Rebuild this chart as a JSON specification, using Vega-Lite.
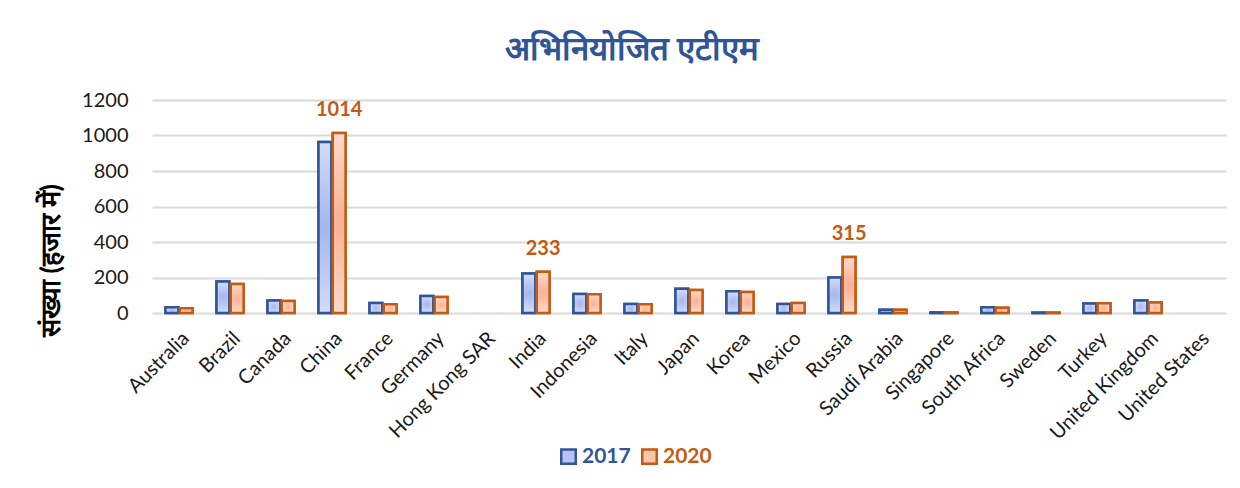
{
  "$schema": "https://vega.github.io/schema/vega-lite/v6.json",
  "width": 1074,
  "height": 213,
  "autosize": {"type": "none"},
  "padding": {"left": 152, "top": 100, "right": 14, "bottom": 175},
  "background": "white",
  "config": {
    "font": "Lato",
    "view": {"stroke": null}
  },
  "title": {
    "text": "अभिनियोजित एटीएम",
    "fontSize": 33,
    "fontWeight": "bold",
    "color": "#2f5597",
    "anchor": "middle",
    "dx": -57,
    "offset": 23
  },
  "data": {
    "values": [
      {"country": "Australia", "year": "2017", "value": 32},
      {"country": "Australia", "year": "2020", "value": 27},
      {"country": "Brazil", "year": "2017", "value": 177},
      {"country": "Brazil", "year": "2020", "value": 163},
      {"country": "Canada", "year": "2017", "value": 71},
      {"country": "Canada", "year": "2020", "value": 68},
      {"country": "China", "year": "2017", "value": 963},
      {"country": "China", "year": "2020", "value": 1014},
      {"country": "France", "year": "2017", "value": 57},
      {"country": "France", "year": "2020", "value": 49},
      {"country": "Germany", "year": "2017", "value": 96},
      {"country": "Germany", "year": "2020", "value": 90},
      {"country": "Hong Kong SAR", "year": "2017", "value": null},
      {"country": "Hong Kong SAR", "year": "2020", "value": null},
      {"country": "India", "year": "2017", "value": 222},
      {"country": "India", "year": "2020", "value": 233},
      {"country": "Indonesia", "year": "2017", "value": 107},
      {"country": "Indonesia", "year": "2020", "value": 105},
      {"country": "Italy", "year": "2017", "value": 51},
      {"country": "Italy", "year": "2020", "value": 49},
      {"country": "Japan", "year": "2017", "value": 136},
      {"country": "Japan", "year": "2020", "value": 130},
      {"country": "Korea", "year": "2017", "value": 122},
      {"country": "Korea", "year": "2020", "value": 119},
      {"country": "Mexico", "year": "2017", "value": 51},
      {"country": "Mexico", "year": "2020", "value": 57},
      {"country": "Russia", "year": "2017", "value": 200},
      {"country": "Russia", "year": "2020", "value": 315},
      {"country": "Saudi Arabia", "year": "2017", "value": 19},
      {"country": "Saudi Arabia", "year": "2020", "value": 18},
      {"country": "Singapore", "year": "2017", "value": 3},
      {"country": "Singapore", "year": "2020", "value": 3},
      {"country": "South Africa", "year": "2017", "value": 32},
      {"country": "South Africa", "year": "2020", "value": 30},
      {"country": "Sweden", "year": "2017", "value": 2},
      {"country": "Sweden", "year": "2020", "value": 2},
      {"country": "Turkey", "year": "2017", "value": 53},
      {"country": "Turkey", "year": "2020", "value": 55},
      {"country": "United Kingdom", "year": "2017", "value": 71},
      {"country": "United Kingdom", "year": "2020", "value": 59},
      {"country": "United States", "year": "2017", "value": null},
      {"country": "United States", "year": "2020", "value": null}
    ]
  },
  "encoding": {
    "x": {
      "field": "country",
      "type": "nominal",
      "sort": null,
      "scale": {
        "domain": ["Australia", "Brazil", "Canada", "China", "France", "Germany", "Hong Kong SAR", "India", "Indonesia", "Italy", "Japan", "Korea", "Mexico", "Russia", "Saudi Arabia", "Singapore", "South Africa", "Sweden", "Turkey", "United Kingdom", "United States"],
        "paddingInner": 0.47,
        "paddingOuter": 0.265
      },
      "axis": {
        "title": null,
        "labelAngle": -45,
        "labelFontSize": 20,
        "labelColor": "#1a1a1a",
        "labelPadding": 15,
        "ticks": false,
        "domain": false
      }
    },
    "xOffset": {
      "field": "year",
      "type": "nominal",
      "scale": {"domain": ["2017", "2020"], "paddingInner": 0.1}
    },
    "y": {
      "field": "value",
      "type": "quantitative",
      "scale": {"domain": [0, 1200]},
      "axis": {
        "title": "संख्या (हजार में)",
        "titleFontSize": 27,
        "titleFontWeight": "bold",
        "titleColor": "#000000",
        "titlePadding": 16,
        "titleY": 160,
        "values": [0, 200, 400, 600, 800, 1000, 1200],
        "format": "d",
        "labelFontSize": 20,
        "labelColor": "#1a1a1a",
        "labelPadding": 24,
        "ticks": false,
        "domain": false,
        "gridColor": "#d9d9d9",
        "gridWidth": 2
      }
    }
  },
  "layer": [
    {
      "mark": {"type": "bar", "strokeWidth": 2.5},
      "encoding": {
        "fill": {
          "field": "year",
          "type": "nominal",
          "scale": {"domain": ["2017", "2020"], "range": ["#b6c4f1", "#fcc5ae"]},
          "legend": {
            "title": null,
            "orient": "none",
            "direction": "horizontal",
            "legendX": 406,
            "legendY": 346,
            "symbolType": "square",
            "symbolSize": 210,
            "symbolStrokeWidth": 2.5,
            "labelFontSize": 21,
            "labelFontWeight": "bold",
            "labelOffset": 3,
            "columnPadding": 6,
            "labelColor": {"expr": "datum.value == '2017' ? '#2f5597' : '#c55a11'"}
          }
        },
        "stroke": {
          "field": "year",
          "type": "nominal",
          "scale": {"domain": ["2017", "2020"], "range": ["#2f5597", "#c55a11"]},
          "legend": {
            "title": null,
            "orient": "none",
            "direction": "horizontal",
            "legendX": 406,
            "legendY": 346,
            "symbolType": "square",
            "symbolSize": 210,
            "symbolStrokeWidth": 2.5,
            "labelFontSize": 21,
            "labelFontWeight": "bold",
            "labelOffset": 3,
            "columnPadding": 6,
            "labelColor": {"expr": "datum.value == '2017' ? '#2f5597' : '#c55a11'"}
          }
        }
      }
    },
    {
      "mark": {"type": "bar", "strokeWidth": 2.5},
      "encoding": {
        "stroke": {
          "condition": {"test": "datum.year == '2017'", "value": "#2f5597"},
          "value": "#c55a11"
        },
        "fill": {
          "condition": {
            "test": "datum.year == '2017'",
            "value": {
              "gradient": "radial",
              "x1": 0.5, "y1": 0.5, "r1": 0,
              "x2": 0.5, "y2": 0.5, "r2": 0.6,
              "stops": [
                {"offset": 0, "color": "#a4b6ee"},
                {"offset": 1, "color": "#dde4f9"}
              ]
            }
          },
          "value": {
            "gradient": "radial",
            "x1": 0.5, "y1": 0.5, "r1": 0,
            "x2": 0.5, "y2": 0.5, "r2": 0.6,
            "stops": [
              {"offset": 0, "color": "#fbb093"},
              {"offset": 1, "color": "#fde2d6"}
            ]
          }
        }
      }
    },
    {
      "transform": [
        {"filter": "datum.year == '2020' && (datum.country == 'China' || datum.country == 'India' || datum.country == 'Russia')"}
      ],
      "mark": {
        "type": "text",
        "baseline": "bottom",
        "dy": -13,
        "fontSize": 20,
        "fontWeight": "bold",
        "color": "#c55a11"
      },
      "encoding": {
        "text": {"field": "value", "type": "quantitative"}
      }
    }
  ]
}
